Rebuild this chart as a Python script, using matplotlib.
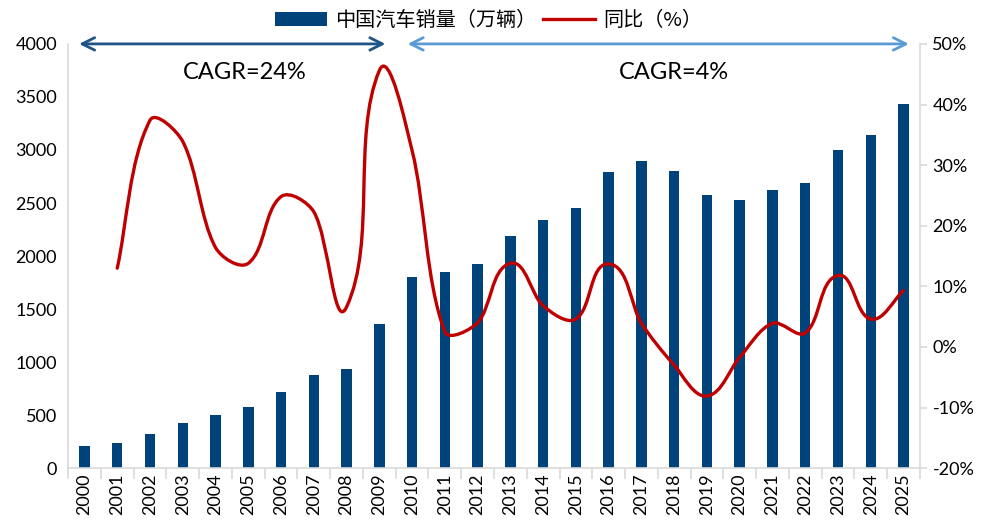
import numpy as np
import matplotlib
matplotlib.use("Agg")
import matplotlib.pyplot as plt
from matplotlib.path import Path
from matplotlib.patches import PathPatch, Patch
from matplotlib.lines import Line2D
from matplotlib.ticker import FuncFormatter, MultipleLocator

plt.rcParams['font.family'] = ['Lato', 'Noto Sans CJK SC', 'DejaVu Sans']

# Data
years = [str(y) for y in range(2000, 2026)]
sales = [205, 234, 320, 430, 505, 572, 715, 879, 938, 1360,
         1802, 1848, 1927, 2193, 2344, 2452, 2795, 2893, 2803, 2575,
         2527, 2625, 2684, 2999, 3143, 3432]
yoy = [None, 13.0, 37.4, 33.9, 16.4, 13.8, 24.8, 22.3, 6.6, 45.6,
       32.4, 2.5, 4.0, 13.8, 6.8, 4.6, 13.7, 3.9, -3.0, -8.1,
       -1.7, 3.9, 2.3, 11.8, 4.6, 9.3]

bar_label = "中国汽车销量（万辆）"
line_label = "同比（%）"
cagr_labels = ["CAGR=24%", "CAGR=4%"]

BAR_COLOR = "#00427A"
LINE_COLOR = "#C00000"
GRID_GREY = "#D9D9D9"
DARK_BLUE = "#1F5487"
LIGHT_BLUE = "#5B9BD5"


def smoothPath(ax, xs, ys, s=0.3):
    """ Excel style smoothed line. Tangents are worked out in pixel space and
    each control arm is scaled by the length of its own segment. """
    pts = ax.transData.transform(np.column_stack([xs, ys]).astype(float))
    n = len(pts)
    verts = [pts[0]]
    codes = [Path.MOVETO]

    def tangent(i):
        a = pts[max(i - 1, 0)]
        b = pts[min(i + 1, n - 1)]
        d = b - a
        return d / np.hypot(*d)

    for i in range(n - 1):
        p1, p2 = pts[i], pts[i + 1]
        seg = np.hypot(*(p2 - p1))
        c1 = p1 + tangent(i) * seg * s
        c2 = p2 - tangent(i + 1) * seg * s
        verts += [c1, c2, p2]
        codes += [Path.CURVE4] * 3
    verts = ax.transData.inverted().transform(np.array(verts))
    return Path(verts, codes)


fig = plt.figure(figsize=(9.87, 5.29), dpi=100)
ax = fig.add_axes([0.069, 0.115, 0.863, 0.802])
ax2 = ax.twinx()

x = np.arange(len(years))
ax.bar(x, sales, width=0.32, color=BAR_COLOR, zorder=2)

ax.set_xlim(-0.5, len(years) - 0.5)
ax.set_ylim(0, 4000)
ax.yaxis.set_major_locator(MultipleLocator(500))
ax.set_xticks(x)
ax.set_xticklabels(years, rotation=90, fontsize=13)
ax.set_xticks(np.arange(-0.5, len(years), 1), minor=True)
ax.tick_params(axis='x', which='major', length=0, pad=4)
ax.tick_params(axis='x', which='minor', length=8, color=GRID_GREY, width=1.2)
ax.tick_params(axis='y', length=0, labelsize=13, pad=8)

for a in (ax, ax2):
    a.spines['top'].set_visible(False)
    for s in ('left', 'right', 'bottom'):
        a.spines[s].set_color(GRID_GREY)
        a.spines[s].set_linewidth(1.2)
ax.spines['right'].set_visible(False)
ax2.spines['left'].set_visible(False)
ax2.spines['bottom'].set_visible(False)

# year-on-year growth, smoothed line on the right axis
ax2.set_xlim(ax.get_xlim())
ax2.set_ylim(-20, 50)
xs = [i for i, v in enumerate(yoy) if v is not None]
ys = [v for v in yoy if v is not None]
ax2.add_patch(PathPatch(smoothPath(ax2, xs, ys), facecolor='none', edgecolor=LINE_COLOR,
                        linewidth=2.4, capstyle='round', joinstyle='round', zorder=3))
ax2.yaxis.set_major_locator(MultipleLocator(10))
ax2.yaxis.set_major_formatter(FuncFormatter(lambda v, p: f"{v:.0f}%"))
ax2.tick_params(axis='y', length=5, color=GRID_GREY, width=1.2, labelsize=13, pad=4)

# CAGR arrows and labels
ax.annotate("", xy=(9.27, 4000), xytext=(-0.25, 4000), annotation_clip=False,
            arrowprops=dict(arrowstyle='<->,head_length=0.9,head_width=0.45',
                            color=DARK_BLUE, lw=2))
ax.annotate("", xy=(25.25, 4000), xytext=(9.78, 4000), annotation_clip=False,
            arrowprops=dict(arrowstyle='<->,head_length=0.9,head_width=0.45',
                            color=LIGHT_BLUE, lw=2))
ax.text(4.9, 3730, cagr_labels[0], ha='center', va='center', fontsize=17, zorder=4)
ax.text(18.0, 3730, cagr_labels[1], ha='center', va='center', fontsize=17, zorder=4)

handles = [Patch(facecolor=BAR_COLOR, edgecolor='none'),
           Line2D([], [], color=LINE_COLOR, lw=2.4)]
fig.legend(handles, [bar_label, line_label], loc='upper center',
           bbox_to_anchor=(0.495, 1.015), ncol=2, frameon=False,
           handlelength=2.6, handleheight=0.7, columnspacing=0.3, handletextpad=0.4,
           prop={'family': ['Noto Sans CJK SC', 'DejaVu Sans'], 'size': 14.5})

fig.savefig("out.png", dpi=100)
